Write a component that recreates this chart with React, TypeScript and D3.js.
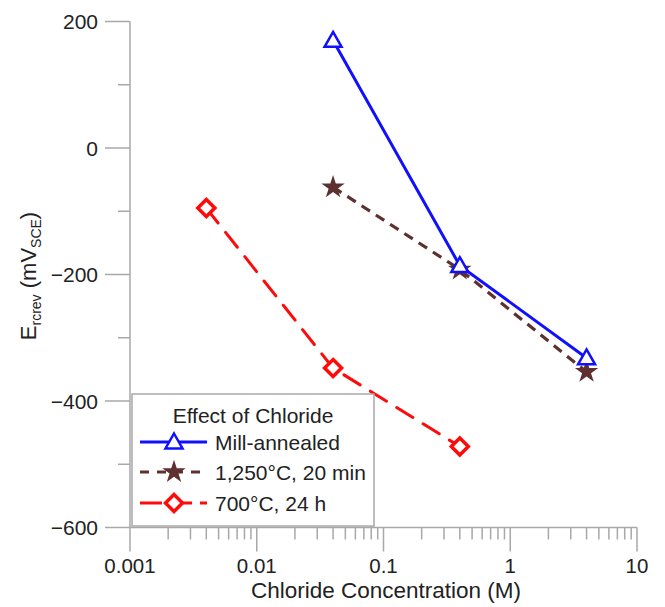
import React from "react";
import * as d3 from "d3";

const conc1 = [0.04, 0.4, 4];
const millAnnealed = [170, -186, -332];
const conc2 = [0.04, 0.4, 4];
const heat1250 = [-62, -192, -354];
const conc3 = [0.004, 0.04, 0.4];
const heat700 = [-95, -348, -472];
const xTicks = [0.001, 0.01, 0.1, 1, 10];
const xTickLabels = ["0.001", "0.01", "0.1", "1", "10"];
const yTicks = [200, 0, -200, -400, -600];
const yTickLabels = ["200", "0", "\u2212200", "\u2212400", "\u2212600"];
const yMinor = [100, -100, -300, -500];
const legendLabels = ["Mill-annealed", "1,250\u00b0C, 20 min", "700\u00b0C, 24 h"];

const W = 665, H = 607;
const FONT = "Liberation Sans, Arial, Helvetica, sans-serif";
const AX = "#a8a8a8";
const BLUE = "#1010ff";
const BROWN = "#5e3030";
const RED = "#ff0a0a";
const TXT = "#222";

const x = d3.scaleLog().domain([0.001, 10]).range([130, 637]);
const y = d3.scaleLinear().domain([-600, 200]).range([527.5, 21.5]);

function Triangle({ cx, cy }: { cx: number; cy: number }) {
  const s = 8.5;
  return (
    <path
      d={`M${cx},${cy - s} L${cx + s},${cy + s * 0.75} L${cx - s},${cy + s * 0.75} Z`}
      fill="white"
      stroke={BLUE}
      strokeWidth={2.5}
    />
  );
}
function Star({ cx, cy }: { cx: number; cy: number }) {
  const d = d3.symbol().type(d3.symbolStar).size(170)();
  return <path d={d || ""} transform={`translate(${cx},${cy})`} fill={BROWN} />;
}
function Diamond({ cx, cy }: { cx: number; cy: number }) {
  const s = 8.5;
  return (
    <path
      d={`M${cx},${cy - s} L${cx + s},${cy} L${cx},${cy + s} L${cx - s},${cy} Z`}
      fill="white"
      stroke={RED}
      strokeWidth={3.5}
    />
  );
}

export default function App() {
  const line = d3
    .line<[number, number]>()
    .x((d) => x(d[0]))
    .y((d) => y(d[1]));
  const s1 = conc1.map((c, i) => [c, millAnnealed[i]] as [number, number]);
  const s2 = conc2.map((c, i) => [c, heat1250[i]] as [number, number]);
  const s3 = conc3.map((c, i) => [c, heat700[i]] as [number, number]);

  const minorX: number[] = [];
  for (let e = -3; e < 1; e++) {
    for (let m = 2; m <= 9; m++) minorX.push(m * Math.pow(10, e));
  }
  const y0 = y(-600);
  const x0 = x(0.001);

  const legY = [442, 472, 503];
  return (
    <svg width={W} height={H} style={{ position: "absolute", left: 0, top: 0 }} fontFamily={FONT}>
      <rect width={W} height={H} fill="white" />
      {/* axes */}
      <line x1={x0} x2={x0} y1={y(200)} y2={y0} stroke={AX} strokeWidth={1.5} />
      <line x1={x0} x2={x(10)} y1={y0} y2={y0} stroke={AX} strokeWidth={1.5} />
      {yTicks.map((t, i) => (
        <g key={"yt" + t}>
          <line x1={x0 - 25} x2={x0} y1={y(t)} y2={y(t)} stroke={AX} strokeWidth={1.5} />
          <text x={x0 - 32} y={y(t)} dy="0.38em" textAnchor="end" fontSize={21} fill={TXT}>
            {yTickLabels[i]}
          </text>
        </g>
      ))}
      {yMinor.map((t) => (
        <line key={"ym" + t} x1={x0 - 12} x2={x0} y1={y(t)} y2={y(t)} stroke={AX} strokeWidth={1.5} />
      ))}
      {xTicks.map((t, i) => (
        <g key={"xt" + t}>
          <line x1={x(t)} x2={x(t)} y1={y0} y2={y0 + 24} stroke={AX} strokeWidth={1.5} />
          <text x={x(t)} y={573} textAnchor="middle" fontSize={20.5} fill={TXT}>
            {xTickLabels[i]}
          </text>
        </g>
      ))}
      {minorX.map((t) => (
        <line key={"xm" + t} x1={x(t)} x2={x(t)} y1={y0} y2={y0 + 12} stroke={AX} strokeWidth={1.5} />
      ))}
      <text x={386} y={598} textAnchor="middle" fontSize={22.5} fill={TXT}>
        Chloride Concentration (M)
      </text>
      <text transform="translate(36,276) rotate(-90)" textAnchor="middle" fontSize={22} fill={TXT}>
        <tspan>E</tspan>
        <tspan fontSize={14} dy={5}>rcrev</tspan>
        <tspan dy={-5}> (mV</tspan>
        <tspan fontSize={14} dy={5}>SCE</tspan>
        <tspan dy={-5}>)</tspan>
      </text>

      {/* series */}
      <path d={line(s3) || ""} fill="none" stroke={RED} strokeWidth={3} strokeDasharray="19 12" strokeLinecap="round" />
      <path d={line(s2) || ""} fill="none" stroke={BROWN} strokeWidth={3.2} strokeDasharray="10 7" />
      <path d={line(s1) || ""} fill="none" stroke={BLUE} strokeWidth={3} />
      {s3.map((d, i) => (
        <Diamond key={"d" + i} cx={x(d[0])} cy={y(d[1])} />
      ))}
      {s2.map((d, i) => (
        <Star key={"s" + i} cx={x(d[0])} cy={y(d[1])} />
      ))}
      {s1.map((d, i) => (
        <Triangle key={"t" + i} cx={x(d[0])} cy={y(d[1])} />
      ))}

      {/* legend */}
      <rect x={132} y={394} width={242} height={132} fill="white" stroke={AX} strokeWidth={1.5} />
      <text x={253} y={423} textAnchor="middle" fontSize={21} fill={TXT}>
        Effect of Chloride
      </text>
      <line x1={140} x2={207} y1={legY[0]} y2={legY[0]} stroke={BLUE} strokeWidth={3} />
      <Triangle cx={174} cy={legY[0]} />
      <line x1={140} x2={207} y1={legY[1]} y2={legY[1]} stroke={BROWN} strokeWidth={3} strokeDasharray="9 8" />
      <Star cx={174} cy={legY[1]} />
      <line x1={140} x2={207} y1={legY[2]} y2={legY[2]} stroke={RED} strokeWidth={3} strokeDasharray="22 8" />
      <Diamond cx={174} cy={legY[2]} />
      {legendLabels.map((l, i) => (
        <text key={l} x={215} y={legY[i]} dy="0.36em" fontSize={21} fill={TXT}>
          {l}
        </text>
      ))}
    </svg>
  );
}
